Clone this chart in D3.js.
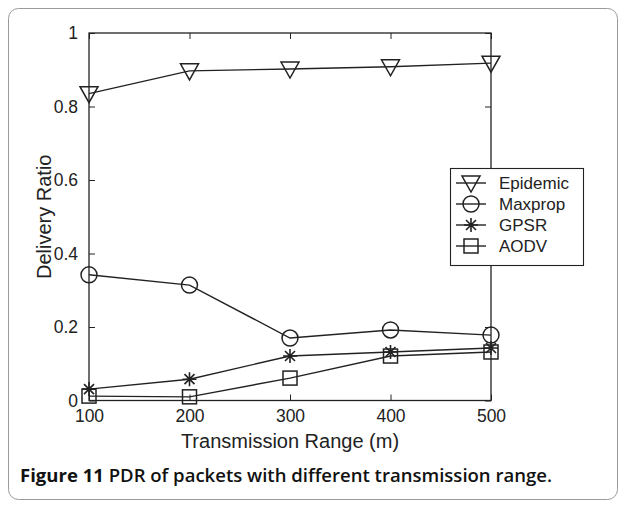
<!DOCTYPE html>
<html><head><meta charset="utf-8">
<script src="https://cdn.jsdelivr.net/npm/d3@7"></script>
<style>body{margin:0;background:#fff;}svg{display:block;}</style>
</head><body>
<script>
const ranges = [100, 200, 300, 400, 500];
const epidemic = [0.835, 0.897, 0.902, 0.908, 0.918];
const maxprop = [0.342, 0.314, 0.170, 0.192, 0.178];
const gpsr = [0.031, 0.058, 0.121, 0.132, 0.143];
const aodv = [0.012, 0.010, 0.061, 0.121, 0.132];
const seriesNames = ["Epidemic", "Maxprop", "GPSR", "AODV"];
const seriesMarkers = ["triangle", "circle", "star", "square"];
const xTicks = [100, 200, 300, 400, 500];
const yTicks = [0, 0.2, 0.4, 0.6, 0.8, 1];
const yTickLabels = ["0", "0.2", "0.4", "0.6", "0.8", "1"];

const W = 626, H = 508;
const svg = d3.select("body").append("svg").attr("width", W).attr("height", H);
svg.append("rect").attr("x", 8.5).attr("y", 8.5).attr("width", 609).attr("height", 491)
  .attr("rx", 10).attr("fill", "#fff").attr("stroke", "#9a9a9a").attr("stroke-width", 1);

const L = 89, R = 491, T = 33, B = 400.5;
const x = d3.scaleLinear().domain([100, 500]).range([L, R]);
const y = d3.scaleLinear().domain([0, 1]).range([B, T]);
const font = "'Liberation Sans', Arial, sans-serif";

const g = svg.append("g");
const tl = 6;
g.append("g").attr("transform", `translate(0,${B})`)
  .call(d3.axisBottom(x).tickValues(xTicks).tickSizeInner(-tl).tickSizeOuter(0).tickPadding(tl + 3))
  .call(a => a.select(".domain").remove());
g.append("g").attr("transform", `translate(0,${T})`)
  .call(d3.axisTop(x).tickValues(xTicks).tickSizeInner(-tl).tickSizeOuter(0).tickFormat(""))
  .call(a => a.select(".domain").remove());
g.append("g").attr("transform", `translate(${L},0)`)
  .call(d3.axisLeft(y).tickValues(yTicks).tickSizeInner(-tl).tickSizeOuter(0).tickPadding(tl + 5).tickFormat((d, i) => yTickLabels[i]))
  .call(a => a.select(".domain").remove());
g.append("g").attr("transform", `translate(${R},0)`)
  .call(d3.axisRight(y).tickValues(yTicks).tickSizeInner(-tl).tickSizeOuter(0).tickFormat(""))
  .call(a => a.select(".domain").remove());
g.selectAll(".tick line").attr("stroke", "#222").attr("stroke-width", 1);
g.selectAll(".tick text").attr("font-family", font).attr("font-size", 17.5).attr("fill", "#222");
g.append("rect").attr("x", L).attr("y", T).attr("width", R - L).attr("height", B - T)
  .attr("fill", "none").attr("stroke", "#222").attr("stroke-width", 1.3);

function marker(sel, type, cx, cy) {
  const m = sel.append("g").attr("transform", `translate(${cx},${cy})`)
    .attr("fill", "none").attr("stroke", "#222").attr("stroke-width", 1.5);
  if (type === "triangle") {
    m.append("path").attr("d", "M-9,-7 L9,-7 L0,9 Z");
  } else if (type === "circle") {
    m.append("circle").attr("r", 8);
  } else if (type === "star") {
    m.append("path").attr("d", "M-7,0 L7,0 M0,-7 L0,7 M-5,-5 L5,5 M-5,5 L5,-5").attr("stroke-width", 1.6);
  } else {
    m.append("rect").attr("x", -7).attr("y", -7).attr("width", 14).attr("height", 14);
  }
}

const allSeries = [epidemic, maxprop, gpsr, aodv];
const line = d3.line().x((d, i) => x(ranges[i])).y(d => y(d));
allSeries.forEach((s, k) => {
  svg.append("path").attr("d", line(s)).attr("fill", "none").attr("stroke", "#222").attr("stroke-width", 1.4);
  s.forEach((v, i) => marker(svg, seriesMarkers[k], x(ranges[i]), y(v)));
});

const lg = svg.append("g");
lg.append("rect").attr("x", 450.5).attr("y", 168.5).attr("width", 133).attr("height", 97)
  .attr("fill", "#fff").attr("stroke", "#222").attr("stroke-width", 1.1);
seriesNames.forEach((n, k) => {
  const yy = 183 + k * 21;
  lg.append("line").attr("x1", 456).attr("x2", 486).attr("y1", yy).attr("y2", yy)
    .attr("stroke", "#222").attr("stroke-width", 1.4);
  marker(lg, seriesMarkers[k], 471, yy);
  lg.append("text").attr("x", 499).attr("y", yy + 6).text(n)
    .attr("font-family", font).attr("font-size", 17).attr("fill", "#222");
});

svg.append("text").attr("x", (L + R) / 2).attr("y", 448).attr("text-anchor", "middle")
  .attr("font-family", font).attr("font-size", 20).attr("fill", "#222").text("Transmission Range (m)");
svg.append("text").attr("transform", `translate(51,${(T + B) / 2}) rotate(-90)`).attr("text-anchor", "middle")
  .attr("font-family", font).attr("font-size", 20).attr("fill", "#222").text("Delivery Ratio");

const cap = svg.append("text").attr("x", 20).attr("y", 482)
  .attr("font-family", "'Open Sans', 'Noto Sans', sans-serif").attr("font-size", 18).attr("fill", "#111")
  .attr("textLength", 532).attr("lengthAdjust", "spacingAndGlyphs");
cap.append("tspan").attr("font-weight", "bold").text("Figure 11");
cap.append("tspan").attr("font-weight", 600).text(" PDR of packets with different transmission range.");
</script>
</body></html>
